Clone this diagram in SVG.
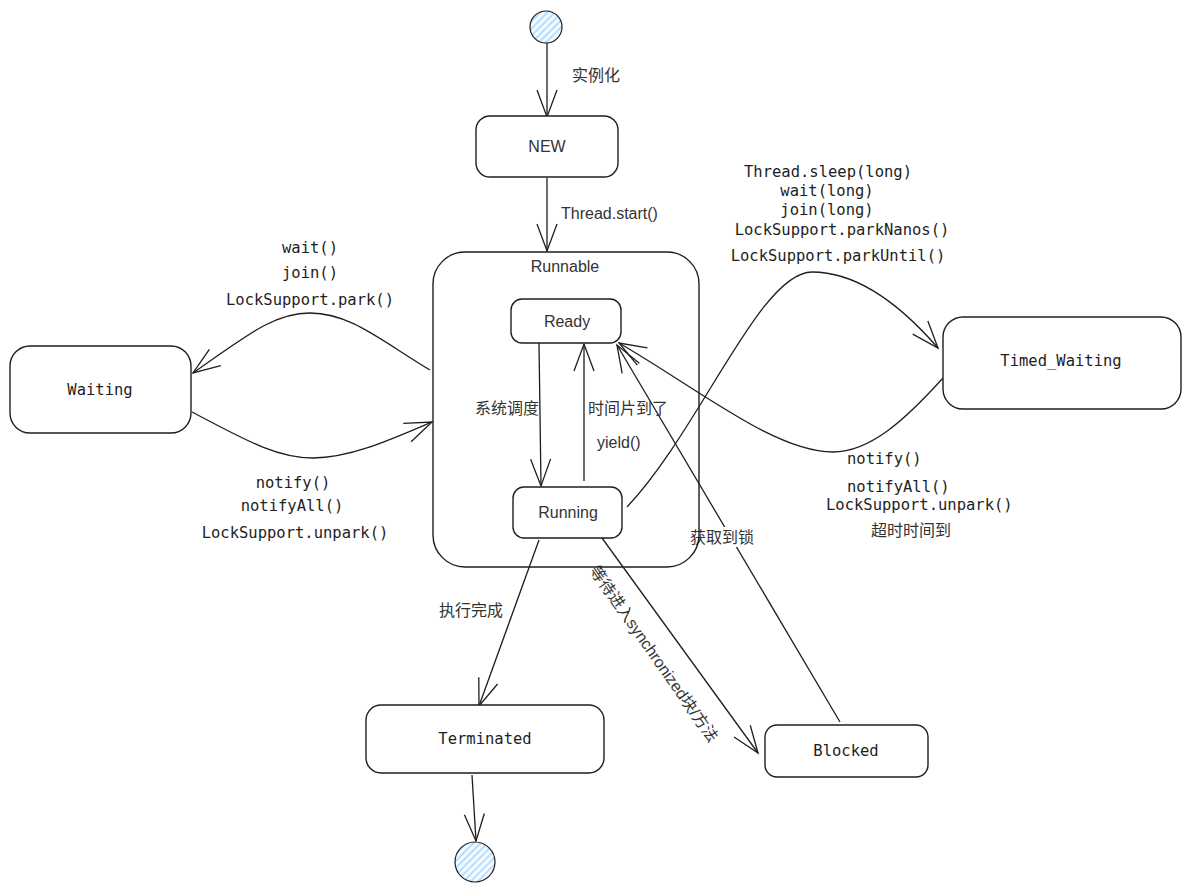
<svg xmlns="http://www.w3.org/2000/svg" width="1191" height="891" viewBox="0 0 1191 891">
<style>
.box{fill:#fff;stroke:#1e1e1e;stroke-width:1.4}
.frame{fill:none;stroke:#1e1e1e;stroke-width:1.4}
.ln{fill:none;stroke:#1e1e1e;stroke-width:1.3;marker-end:url(#arr)}
.code{font-family:"DejaVu Sans Mono","Liberation Mono",monospace;font-size:15.5px;fill:#1e1e1e}
.hand{font-family:"Liberation Sans","Noto Sans CJK SC",sans-serif;font-size:16px;fill:#333}
.cjk{font-family:"Liberation Sans","Noto Sans CJK SC",sans-serif;font-size:16px;fill:#333}
.lbl{font-family:"Liberation Sans","Noto Sans CJK SC",sans-serif;font-size:16px;fill:#333}
.hatchc{fill:url(#hatch);stroke:#1e1e1e;stroke-width:1.2}
</style>
<defs>
<marker id="arr" markerUnits="userSpaceOnUse" markerWidth="40" markerHeight="30" viewBox="-32 -15 34 30" refX="0" refY="0" orient="auto" overflow="visible">
<path d="M-27,-10 L0,0 L-27,10" fill="none" stroke="#1e1e1e" stroke-width="1.3"/>
</marker>
<pattern id="hatch" patternUnits="userSpaceOnUse" width="5" height="5" patternTransform="rotate(45)">
<rect width="5" height="5" fill="#f4faff"/>
<line x1="1" y1="0" x2="1" y2="5" stroke="#a5d8ff" stroke-width="1.6"/>
</pattern>
</defs>
<rect width="1191" height="891" fill="#fff"/>

<g id="connectors">
<path class="ln" d="M547,43 L547,117"/>
<path class="ln" d="M547,178 L547,251"/>
<path class="ln" d="M539,343 L541,486"/>
<path class="ln" d="M584,481 L584,344"/>
<path class="ln" d="M430,370 C380,340 350,313 310,313 C275,313 250,333 193,373"/>
<path class="ln" d="M192,412 C240,437 275,458 313,458 C350,458 390,440 432,422"/>
<path class="ln" d="M627,507 C700,430 760,272 812,272 C860,272 905,310 938,348"/>
<path class="ln" d="M943,378 C905,420 870,452 833,452 C775,452 700,390 619,343"/>
<path class="ln" d="M840,722 L617,345"/>
<path class="ln" d="M539,540 L479,706"/>
<path class="ln" d="M602,538 L758,753"/>
<path class="ln" d="M472,775 L476,841"/>
</g>

<g id="labels">
<text class="cjk" x="572" y="81" font-size="18" fill="#555">实例化</text>
<text class="lbl" x="561" y="219">Thread.start()</text>
<text class="code" x="310" y="253" text-anchor="middle">wait()</text>
<text class="code" x="310" y="278" text-anchor="middle">join()</text>
<text class="code" x="310" y="305" text-anchor="middle">LockSupport.park()</text>
<text class="code" x="293" y="488" text-anchor="middle">notify()</text>
<text class="code" x="292" y="511" text-anchor="middle">notifyAll()</text>
<text class="code" x="295" y="538" text-anchor="middle">LockSupport.unpark()</text>
<text class="code" x="828" y="177" text-anchor="middle">Thread.sleep(long)</text>
<text class="code" x="827" y="196" text-anchor="middle">wait(long)</text>
<text class="code" x="827" y="215" text-anchor="middle">join(long)</text>
<text class="code" x="842" y="235" text-anchor="middle">LockSupport.parkNanos()</text>
<text class="code" x="838" y="261" text-anchor="middle">LockSupport.parkUntil()</text>
<text class="code" x="847" y="464">notify()</text>
<text class="code" x="847" y="492">notifyAll()</text>
<text class="code" x="826" y="510">LockSupport.unpark()</text>
<text class="cjk" x="871" y="536" font-size="15.5">超时时间到</text>
<text class="cjk" x="475" y="414" font-size="15" fill="#555">系统调度</text>
<text class="cjk" x="588" y="414" font-size="15" fill="#555">时间片到了</text>
<text class="lbl" x="597" y="448">yield()</text>
<rect x="688" y="527" width="70" height="20" fill="#fff"/>
<text class="cjk" x="690" y="543">获取到锁</text>
<text class="cjk" x="439" y="616">执行完成</text>
<text class="cjk" transform="translate(654,654) rotate(55)" text-anchor="middle" dominant-baseline="central" font-size="16.5">等待进入synchronized块/方法</text>
</g>

<g id="start"><circle class="hatchc" cx="546" cy="27" r="16"/></g>
<g id="end"><circle class="hatchc" cx="475" cy="862" r="20"/></g>

<g id="new">
<rect class="box" x="476" y="116" width="142" height="61" rx="14"/>
<text class="hand" x="547" y="152" text-anchor="middle">NEW</text>
</g>

<g id="runnable">
<rect class="frame" x="433" y="252" width="266" height="315" rx="32"/>
<text class="hand" x="565" y="272" text-anchor="middle">Runnable</text>
</g>

<g id="ready">
<rect class="box" x="511" y="299" width="110" height="44" rx="11"/>
<text class="hand" x="567" y="327" text-anchor="middle">Ready</text>
</g>

<g id="running">
<rect class="box" x="513" y="487" width="109" height="51" rx="11"/>
<text class="hand" x="568" y="518" text-anchor="middle">Running</text>
</g>

<g id="waiting">
<rect class="box" x="10" y="346" width="181" height="87" rx="20"/>
<text class="code" x="100" y="395" text-anchor="middle">Waiting</text>
</g>

<g id="timed_waiting">
<rect class="box" x="943" y="317" width="238" height="92" rx="20"/>
<text class="code" x="1061" y="366" text-anchor="middle">Timed_Waiting</text>
</g>

<g id="terminated">
<rect class="box" x="366" y="705" width="238" height="68" rx="15"/>
<text class="code" x="485" y="744" text-anchor="middle">Terminated</text>
</g>

<g id="blocked">
<rect class="box" x="765" y="725" width="163" height="52" rx="12"/>
<text class="code" x="846" y="756" text-anchor="middle">Blocked</text>
</g>
</svg>
